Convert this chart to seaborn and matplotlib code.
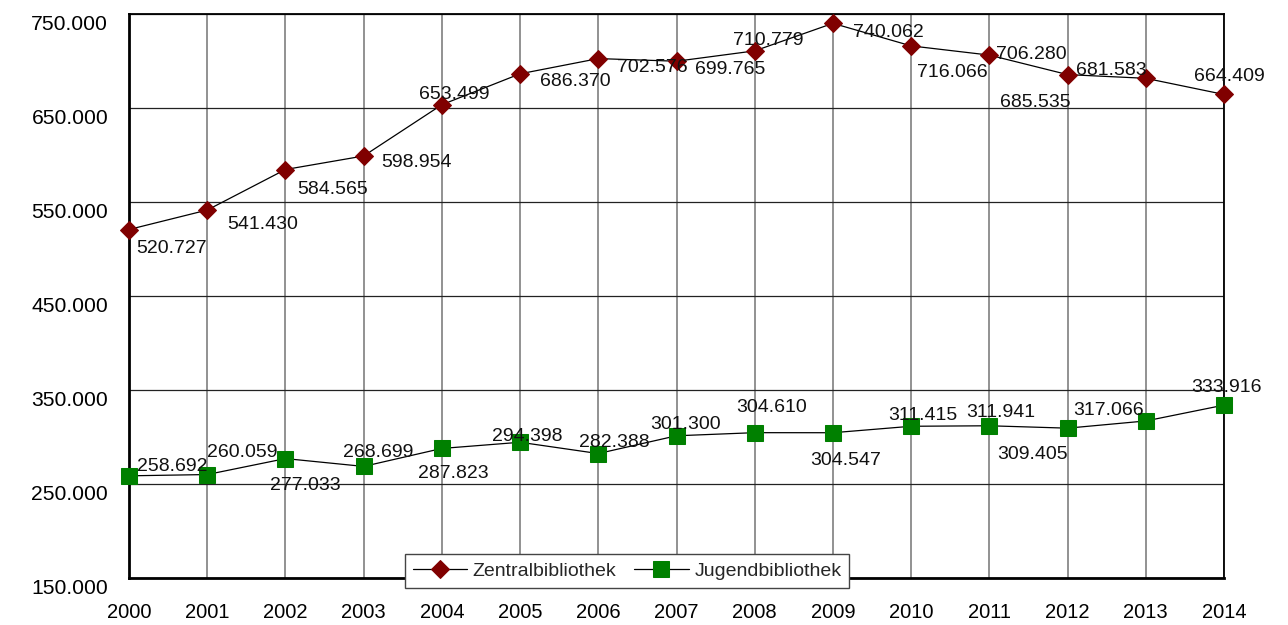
import numpy as np
import pandas as pd
import seaborn as sns
import matplotlib.pyplot as plt
from matplotlib.ticker import FuncFormatter
from matplotlib.transforms import ScaledTranslation

# Data
years = list(range(2000, 2015))
zentral = [520727, 541430, 584565, 598954, 653499, 686370, 702576, 699765,
           710779, 740062, 716066, 706280, 685535, 681583, 664409]
jugend = [258692, 260059, 277033, 268699, 287823, 294398, 282388, 301300,
          304610, 304547, 311415, 311941, 309405, 317066, 333916]

# label offsets in pixels (left edge, centre)
zentral_off = [(7, -19), (20, -14), (12, -20), (18, -7), (-23, 10), (20, -8), (19, -9), (19, -8),
               (-22, 10), (20, -9), (6, -27), (7, 1), (-68, -28), (-70, 8), (-30, 18)]
jugend_off = [(8, 9), (0, 22), (-15, -27), (-21, 14), (-24, -25), (-28, 6), (-19, 11), (-26, 11),
              (-18, 25), (-23, -28), (-23, 11), (-23, 13), (-70, -26), (-73, 10), (-33, 18)]

def de_fmt(v, pos=None):
    return f"{int(v):,}".replace(",", ".")

sns.set_style("white")
plt.rcParams['font.family'] = ['Liberation Sans', 'DejaVu Sans']

fig = plt.figure(figsize=(12.88, 6.25), dpi=100)
ax = fig.add_axes([129 / 1288, 1 - 578 / 625, (1224 - 129) / 1288, (578 - 14) / 625])

sns.lineplot(x=years, y=zentral, ax=ax, color='black', lw=0.9, marker='D',
             markersize=9, markerfacecolor='#800000', markeredgecolor='#800000',
             label='Zentralbibliothek', zorder=3, clip_on=False)
sns.lineplot(x=years, y=jugend, ax=ax, color='black', lw=0.9, marker='s',
             markersize=12, markerfacecolor='#008000', markeredgecolor='#008000',
             label='Jugendbibliothek', zorder=3, clip_on=False)

for x, y, off in zip(years, zentral, zentral_off):
    ax.annotate(de_fmt(y), (x, y), xytext=off, textcoords='offset pixels',
                fontsize=14, color='#111111', ha='left', va='center')
for x, y, off in zip(years, jugend, jugend_off):
    ax.annotate(de_fmt(y), (x, y), xytext=off, textcoords='offset pixels',
                fontsize=14, color='#111111', ha='left', va='center')

ax.set_xlim(2000, 2014)
ax.set_ylim(150000, 750000)
ax.set_xticks(years)
ax.set_yticks(range(150000, 750001, 100000))
ax.yaxis.set_major_formatter(FuncFormatter(de_fmt))
ax.tick_params(axis='both', colors='black', direction='out', length=8, width=1.5)
ax.tick_params(axis='x', labelsize=14.5, pad=10)
ax.tick_params(axis='y', labelsize=15.2, pad=7)
for lab in ax.get_yticklabels():
    lab.set_transform(lab.get_transform() + ScaledTranslation(0, -8 / 100, fig.dpi_scale_trans))

ax.grid(axis='x', color='#7f7f7f', lw=1.2)
ax.grid(axis='y', color='#222222', lw=0.9)

for side in ['left', 'bottom']:
    ax.spines[side].set_linewidth(2)
    ax.spines[side].set_color('black')
for side in ['top', 'right']:
    ax.spines[side].set_linewidth(1.3)
    ax.spines[side].set_color('black')

leg = ax.legend(loc='center', bbox_to_anchor=(627 / 1288, 1 - 571 / 625),
                bbox_transform=fig.transFigure, ncol=2, fontsize=14,
                frameon=True, fancybox=False, framealpha=1, edgecolor='#444444',
                handlelength=2.8, handletextpad=0.3, columnspacing=0.9, borderpad=0.4)
leg.get_frame().set_linewidth(1)

fig.savefig('out.png', dpi=100)
